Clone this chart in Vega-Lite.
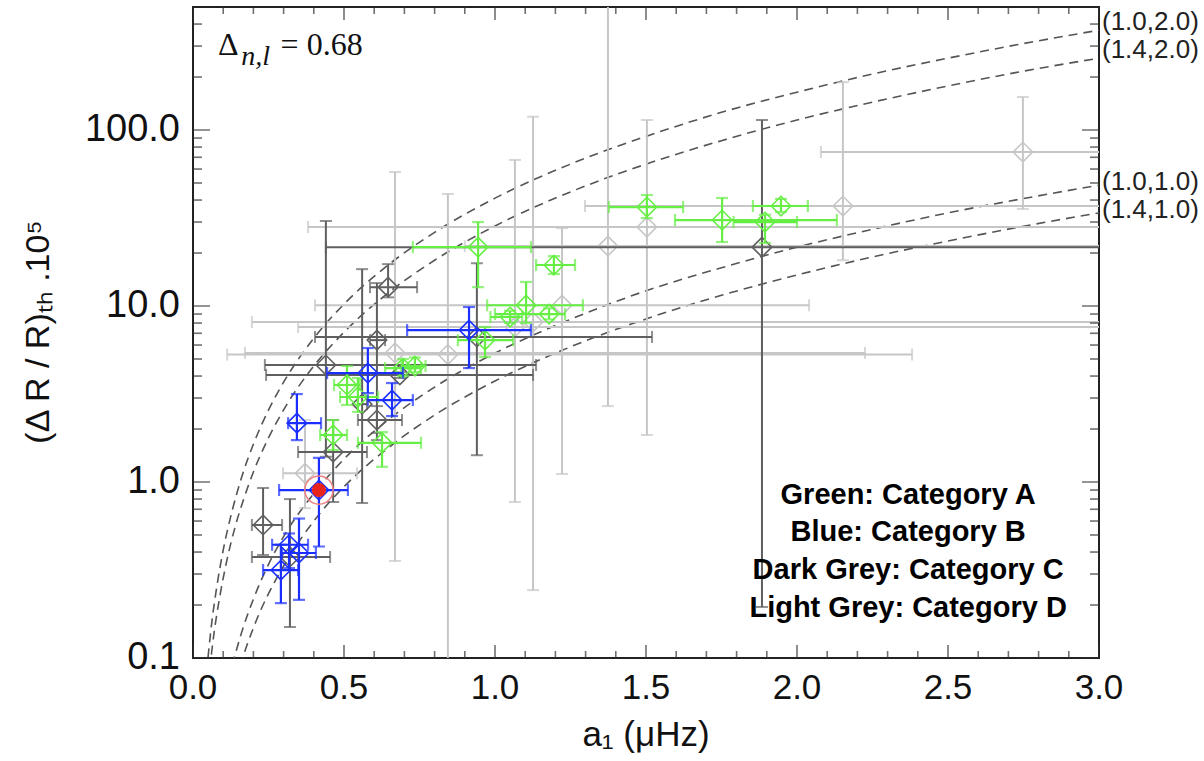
{
"$schema":"https://vega.github.io/schema/vega-lite/v6.json",
"width":906,"height":651,
"autosize":{"type":"none"},
"padding":{"left":193,"top":7,"right":105,"bottom":103},
"background":"white",
"view":{"stroke":"#222","strokeWidth":2},
"config":{"axis":{"grid":false,"domain":false}},
"datasets":{
"xt":[
{"v":0,"e":0.1,"k":"major"},{"v":0.5,"e":0.1,"k":"major"},{"v":1,"e":0.1,"k":"major"},{"v":1.5,"e":0.1,"k":"major"},{"v":2,"e":0.1,"k":"major"},{"v":2.5,"e":0.1,"k":"major"},{"v":3,"e":0.1,"k":"major"},
{"v":0,"e":500,"k":"major"},{"v":0.5,"e":500,"k":"major"},{"v":1,"e":500,"k":"major"},{"v":1.5,"e":500,"k":"major"},{"v":2,"e":500,"k":"major"},{"v":2.5,"e":500,"k":"major"},{"v":3,"e":500,"k":"major"},
{"v":0.1,"e":0.1,"k":"minor"},{"v":0.2,"e":0.1,"k":"minor"},{"v":0.3,"e":0.1,"k":"minor"},{"v":0.4,"e":0.1,"k":"minor"},{"v":0.6,"e":0.1,"k":"minor"},{"v":0.7,"e":0.1,"k":"minor"},{"v":0.8,"e":0.1,"k":"minor"},{"v":0.9,"e":0.1,"k":"minor"},
{"v":1.1,"e":0.1,"k":"minor"},{"v":1.2,"e":0.1,"k":"minor"},{"v":1.3,"e":0.1,"k":"minor"},{"v":1.4,"e":0.1,"k":"minor"},{"v":1.6,"e":0.1,"k":"minor"},{"v":1.7,"e":0.1,"k":"minor"},{"v":1.8,"e":0.1,"k":"minor"},{"v":1.9,"e":0.1,"k":"minor"},
{"v":2.1,"e":0.1,"k":"minor"},{"v":2.2,"e":0.1,"k":"minor"},{"v":2.3,"e":0.1,"k":"minor"},{"v":2.4,"e":0.1,"k":"minor"},{"v":2.6,"e":0.1,"k":"minor"},{"v":2.7,"e":0.1,"k":"minor"},{"v":2.8,"e":0.1,"k":"minor"},{"v":2.9,"e":0.1,"k":"minor"},
{"v":0.1,"e":500,"k":"minor"},{"v":0.2,"e":500,"k":"minor"},{"v":0.3,"e":500,"k":"minor"},{"v":0.4,"e":500,"k":"minor"},{"v":0.6,"e":500,"k":"minor"},{"v":0.7,"e":500,"k":"minor"},{"v":0.8,"e":500,"k":"minor"},{"v":0.9,"e":500,"k":"minor"},
{"v":1.1,"e":500,"k":"minor"},{"v":1.2,"e":500,"k":"minor"},{"v":1.3,"e":500,"k":"minor"},{"v":1.4,"e":500,"k":"minor"},{"v":1.6,"e":500,"k":"minor"},{"v":1.7,"e":500,"k":"minor"},{"v":1.8,"e":500,"k":"minor"},{"v":1.9,"e":500,"k":"minor"},
{"v":2.1,"e":500,"k":"minor"},{"v":2.2,"e":500,"k":"minor"},{"v":2.3,"e":500,"k":"minor"},{"v":2.4,"e":500,"k":"minor"},{"v":2.6,"e":500,"k":"minor"},{"v":2.7,"e":500,"k":"minor"},{"v":2.8,"e":500,"k":"minor"},{"v":2.9,"e":500,"k":"minor"}
],
"yt":[
{"v":0.1,"e":0,"k":"major"},{"v":1,"e":0,"k":"major"},{"v":10,"e":0,"k":"major"},{"v":100,"e":0,"k":"major"},
{"v":0.1,"e":3,"k":"major"},{"v":1,"e":3,"k":"major"},{"v":10,"e":3,"k":"major"},{"v":100,"e":3,"k":"major"},
{"v":0.2,"e":0,"k":"minor"},{"v":0.3,"e":0,"k":"minor"},{"v":0.4,"e":0,"k":"minor"},{"v":0.5,"e":0,"k":"minor"},{"v":0.6,"e":0,"k":"minor"},{"v":0.7,"e":0,"k":"minor"},{"v":0.8,"e":0,"k":"minor"},{"v":0.9,"e":0,"k":"minor"},
{"v":2,"e":0,"k":"minor"},{"v":3,"e":0,"k":"minor"},{"v":4,"e":0,"k":"minor"},{"v":5,"e":0,"k":"minor"},{"v":6,"e":0,"k":"minor"},{"v":7,"e":0,"k":"minor"},{"v":8,"e":0,"k":"minor"},{"v":9,"e":0,"k":"minor"},
{"v":20,"e":0,"k":"minor"},{"v":30,"e":0,"k":"minor"},{"v":40,"e":0,"k":"minor"},{"v":50,"e":0,"k":"minor"},{"v":60,"e":0,"k":"minor"},{"v":70,"e":0,"k":"minor"},{"v":80,"e":0,"k":"minor"},{"v":90,"e":0,"k":"minor"},
{"v":200,"e":0,"k":"minor"},{"v":300,"e":0,"k":"minor"},{"v":400,"e":0,"k":"minor"},
{"v":0.2,"e":3,"k":"minor"},{"v":0.3,"e":3,"k":"minor"},{"v":0.4,"e":3,"k":"minor"},{"v":0.5,"e":3,"k":"minor"},{"v":0.6,"e":3,"k":"minor"},{"v":0.7,"e":3,"k":"minor"},{"v":0.8,"e":3,"k":"minor"},{"v":0.9,"e":3,"k":"minor"},
{"v":2,"e":3,"k":"minor"},{"v":3,"e":3,"k":"minor"},{"v":4,"e":3,"k":"minor"},{"v":5,"e":3,"k":"minor"},{"v":6,"e":3,"k":"minor"},{"v":7,"e":3,"k":"minor"},{"v":8,"e":3,"k":"minor"},{"v":9,"e":3,"k":"minor"},
{"v":20,"e":3,"k":"minor"},{"v":30,"e":3,"k":"minor"},{"v":40,"e":3,"k":"minor"},{"v":50,"e":3,"k":"minor"},{"v":60,"e":3,"k":"minor"},{"v":70,"e":3,"k":"minor"},{"v":80,"e":3,"k":"minor"},{"v":90,"e":3,"k":"minor"},
{"v":200,"e":3,"k":"minor"},{"v":300,"e":3,"k":"minor"},{"v":400,"e":3,"k":"minor"}
],
"xl":[{"v":0,"e":0.1,"t":"0.0"},{"v":0.5,"e":0.1,"t":"0.5"},{"v":1,"e":0.1,"t":"1.0"},{"v":1.5,"e":0.1,"t":"1.5"},{"v":2,"e":0.1,"t":"2.0"},{"v":2.5,"e":0.1,"t":"2.5"},{"v":3,"e":0.1,"t":"3.0"}],
"yl":[{"v":0.1,"e":0,"t":"0.1"},{"v":1,"e":0,"t":"1.0"},{"v":10,"e":0,"t":"10.0"},{"v":100,"e":0,"t":"100.0"}],
"pts":[
{"cat":"D","x":2.748,"y":75,"xlo":2.079,"xhi":3.2,"ylo":35.6,"yhi":154},
{"cat":"D","x":2.152,"y":37,"xlo":1.298,"xhi":3.2,"ylo":18.2,"yhi":187},
{"cat":"D","x":1.503,"y":28.1,"xlo":0.381,"xhi":3.2,"ylo":1.85,"yhi":114},
{"cat":"D","x":1.374,"y":21.9,"xlo":0.9,"xhi":3.2,"ylo":2.7,"yhi":800},
{"cat":"D","x":1.222,"y":10.1,"xlo":0.404,"xhi":2.04,"ylo":1.11,"yhi":27.7},
{"cat":"D","x":1.126,"y":8.1,"xlo":0.195,"xhi":3.2,"ylo":0.243,"yhi":119},
{"cat":"D","x":1.066,"y":7.6,"xlo":0.348,"xhi":3.2,"ylo":0.77,"yhi":67.6},
{"cat":"D","x":0.669,"y":5.41,"xlo":0.172,"xhi":2.225,"ylo":0.356,"yhi":57.7},
{"cat":"D","x":0.844,"y":5.3,"xlo":0.113,"xhi":2.381,"ylo":0.05,"yhi":43.3},
{"cat":"D","x":0.371,"y":1.12,"xlo":0.298,"xhi":0.543,"ylo":0.71,"yhi":2.25},
{"cat":"C","x":1.884,"y":21.6,"xlo":0.44,"xhi":3.2,"ylo":0.195,"yhi":114},
{"cat":"C","x":0.646,"y":12.8,"xlo":0.586,"xhi":0.742,"ylo":11.2,"yhi":17.3},
{"cat":"C","x":0.44,"y":4.62,"xlo":0.238,"xhi":1.136,"ylo":1.39,"yhi":30.4},
{"cat":"C","x":0.94,"y":6.67,"xlo":0.404,"xhi":1.52,"ylo":1.42,"yhi":17.5},
{"cat":"C","x":0.685,"y":4.06,"xlo":0.242,"xhi":1.126,"ylo":3.9,"yhi":4.2},
{"cat":"C","x":0.609,"y":6.4,"xlo":0.586,"xhi":0.636,"ylo":1.73,"yhi":13.5},
{"cat":"C","x":0.56,"y":2.77,"xlo":0.546,"xhi":0.576,"ylo":0.76,"yhi":16.2},
{"cat":"C","x":0.609,"y":2.25,"xlo":0.546,"xhi":0.692,"ylo":1.9,"yhi":2.7},
{"cat":"C","x":0.464,"y":1.48,"xlo":0.348,"xhi":0.576,"ylo":0.77,"yhi":2.25},
{"cat":"C","x":0.232,"y":0.57,"xlo":0.195,"xhi":0.295,"ylo":0.385,"yhi":0.925},
{"cat":"C","x":0.321,"y":0.375,"xlo":0.195,"xhi":0.454,"ylo":0.15,"yhi":0.8},
{"cat":"A","x":1.503,"y":36.5,"xlo":1.377,"xhi":1.623,"ylo":31.6,"yhi":42.7},
{"cat":"A","x":1.752,"y":30.8,"xlo":1.596,"xhi":2.132,"ylo":23.1,"yhi":41.1},
{"cat":"A","x":1.947,"y":37,"xlo":1.854,"xhi":2.036,"ylo":34.2,"yhi":40.6},
{"cat":"A","x":1.894,"y":30,"xlo":1.79,"xhi":2.0,"ylo":22.8,"yhi":33},
{"cat":"A","x":0.944,"y":21.6,"xlo":0.728,"xhi":1.119,"ylo":12.8,"yhi":30},
{"cat":"A","x":1.195,"y":17.1,"xlo":1.136,"xhi":1.265,"ylo":15.2,"yhi":19.2},
{"cat":"A","x":1.103,"y":10.1,"xlo":0.974,"xhi":1.291,"ylo":8.0,"yhi":13.7},
{"cat":"A","x":1.179,"y":9.0,"xlo":1.0,"xhi":1.232,"ylo":8.4,"yhi":9.7},
{"cat":"A","x":1.05,"y":8.66,"xlo":0.985,"xhi":1.09,"ylo":8.0,"yhi":9.4},
{"cat":"A","x":0.967,"y":6.4,"xlo":0.877,"xhi":1.06,"ylo":5.13,"yhi":7.6},
{"cat":"A","x":0.695,"y":4.44,"xlo":0.636,"xhi":0.755,"ylo":4.0,"yhi":5.0},
{"cat":"A","x":0.735,"y":4.56,"xlo":0.69,"xhi":0.77,"ylo":4.2,"yhi":5.1},
{"cat":"A","x":0.51,"y":3.56,"xlo":0.467,"xhi":0.553,"ylo":2.74,"yhi":4.56},
{"cat":"A","x":0.546,"y":3.04,"xlo":0.487,"xhi":0.613,"ylo":2.5,"yhi":3.9},
{"cat":"A","x":0.464,"y":1.85,"xlo":0.421,"xhi":0.51,"ylo":1.52,"yhi":2.25},
{"cat":"A","x":0.626,"y":1.67,"xlo":0.546,"xhi":0.755,"ylo":1.22,"yhi":1.92},
{"cat":"B","x":0.914,"y":7.3,"xlo":0.709,"xhi":1.119,"ylo":4.44,"yhi":9.87},
{"cat":"B","x":0.579,"y":4.16,"xlo":0.444,"xhi":0.695,"ylo":3.2,"yhi":5.77},
{"cat":"B","x":0.659,"y":2.92,"xlo":0.579,"xhi":0.728,"ylo":2.37,"yhi":3.65},
{"cat":"B","x":0.344,"y":2.16,"xlo":0.315,"xhi":0.424,"ylo":1.73,"yhi":3.16},
{"cat":"B","x":0.417,"y":0.9,"xlo":0.285,"xhi":0.513,"ylo":0.43,"yhi":1.37},
{"cat":"B","x":0.291,"y":0.316,"xlo":0.232,"xhi":0.348,"ylo":0.205,"yhi":0.44},
{"cat":"B","x":0.351,"y":0.395,"xlo":0.295,"xhi":0.407,"ylo":0.214,"yhi":0.62},
{"cat":"B","x":0.318,"y":0.44,"xlo":0.262,"xhi":0.381,"ylo":0.324,"yhi":0.51}
],
"curves":[
{"curve":"c1","x":0.045,"y":0.083},{"curve":"c1","x":0.06,"y":0.148},{"curve":"c1","x":0.08,"y":0.262},{"curve":"c1","x":0.1,"y":0.41},{"curve":"c1","x":0.13,"y":0.69},{"curve":"c1","x":0.16,"y":1.05},{"curve":"c1","x":0.2,"y":1.64},{"curve":"c1","x":0.25,"y":2.56},{"curve":"c1","x":0.3,"y":3.69},{"curve":"c1","x":0.4,"y":6.56},{"curve":"c1","x":0.5,"y":10.25},{"curve":"c1","x":0.65,"y":17.3},{"curve":"c1","x":0.8,"y":26.2},{"curve":"c1","x":1.0,"y":41},{"curve":"c1","x":1.25,"y":64},{"curve":"c1","x":1.5,"y":92},{"curve":"c1","x":1.75,"y":126},{"curve":"c1","x":2.0,"y":164},{"curve":"c1","x":2.25,"y":208},{"curve":"c1","x":2.5,"y":256},{"curve":"c1","x":2.75,"y":310},{"curve":"c1","x":3.0,"y":369},
{"curve":"c2","x":0.055,"y":0.086},{"curve":"c2","x":0.07,"y":0.14},{"curve":"c2","x":0.09,"y":0.23},{"curve":"c2","x":0.11,"y":0.345},{"curve":"c2","x":0.14,"y":0.56},{"curve":"c2","x":0.17,"y":0.82},{"curve":"c2","x":0.2,"y":1.14},{"curve":"c2","x":0.25,"y":1.78},{"curve":"c2","x":0.3,"y":2.57},{"curve":"c2","x":0.4,"y":4.56},{"curve":"c2","x":0.5,"y":7.1},{"curve":"c2","x":0.65,"y":12.0},{"curve":"c2","x":0.8,"y":18.2},{"curve":"c2","x":1.0,"y":28.5},{"curve":"c2","x":1.25,"y":44.5},{"curve":"c2","x":1.5,"y":64},{"curve":"c2","x":1.75,"y":87},{"curve":"c2","x":2.0,"y":114},{"curve":"c2","x":2.25,"y":144},{"curve":"c2","x":2.5,"y":178},{"curve":"c2","x":2.75,"y":216},{"curve":"c2","x":3.0,"y":256},
{"curve":"c3","x":0.13,"y":0.091},{"curve":"c3","x":0.16,"y":0.138},{"curve":"c3","x":0.2,"y":0.216},{"curve":"c3","x":0.25,"y":0.34},{"curve":"c3","x":0.3,"y":0.49},{"curve":"c3","x":0.4,"y":0.86},{"curve":"c3","x":0.5,"y":1.35},{"curve":"c3","x":0.65,"y":2.28},{"curve":"c3","x":0.8,"y":3.46},{"curve":"c3","x":1.0,"y":5.4},{"curve":"c3","x":1.25,"y":8.4},{"curve":"c3","x":1.5,"y":12.2},{"curve":"c3","x":1.75,"y":16.5},{"curve":"c3","x":2.0,"y":21.6},{"curve":"c3","x":2.25,"y":27.3},{"curve":"c3","x":2.5,"y":33.8},{"curve":"c3","x":2.75,"y":40.8},{"curve":"c3","x":3.0,"y":48.6},
{"curve":"c4","x":0.155,"y":0.09},{"curve":"c4","x":0.18,"y":0.12},{"curve":"c4","x":0.22,"y":0.18},{"curve":"c4","x":0.27,"y":0.27},{"curve":"c4","x":0.32,"y":0.38},{"curve":"c4","x":0.4,"y":0.6},{"curve":"c4","x":0.5,"y":0.94},{"curve":"c4","x":0.65,"y":1.58},{"curve":"c4","x":0.8,"y":2.4},{"curve":"c4","x":1.0,"y":3.75},{"curve":"c4","x":1.25,"y":5.86},{"curve":"c4","x":1.5,"y":8.44},{"curve":"c4","x":1.75,"y":11.5},{"curve":"c4","x":2.0,"y":15},{"curve":"c4","x":2.25,"y":19},{"curve":"c4","x":2.5,"y":23.4},{"curve":"c4","x":2.75,"y":28.4},{"curve":"c4","x":3.0,"y":33.8}
]
},
"layer":[
{"data":{"name":"curves"},"mark":{"type":"line","clip":true,"color":"#555555","strokeWidth":1.6,"strokeDash":[9,6],"interpolate":"monotone"},
 "encoding":{
  "x":{"field":"x","type":"quantitative","scale":{"domain":[0,3],"nice":false,"zero":false},"axis":null},
  "y":{"field":"y","type":"quantitative","scale":{"type":"log","domain":[0.1,500],"nice":false},"axis":null},
  "detail":{"field":"curve"}
 }},
{"data":{"name":"pts"},"transform":[{"filter":"datum.cat === 'D'"}],
 "layer":[
  {"mark":{"type":"rule","clip":true,"strokeWidth":2},"encoding":{"x":{"field":"xlo","type":"quantitative","scale":{"domain":[0,3],"nice":false,"zero":false},"axis":null},"x2":{"field":"xhi"},"y":{"field":"y","type":"quantitative","scale":{"type":"log","domain":[0.1,500],"nice":false},"axis":null},"color":{"field":"cat","type":"nominal","scale":{"domain":["A","B","C","D"],"range":["#66ee44","#1a2fff","#5f5f5f","#c6c6c6"]},"legend":null}}},
  {"mark":{"type":"rule","clip":true,"strokeWidth":2},"encoding":{"x":{"field":"x","type":"quantitative","scale":{"domain":[0,3],"nice":false,"zero":false},"axis":null},"y":{"field":"ylo","type":"quantitative","scale":{"type":"log","domain":[0.1,500],"nice":false},"axis":null},"y2":{"field":"yhi"},"color":{"field":"cat","type":"nominal","scale":{"domain":["A","B","C","D"],"range":["#66ee44","#1a2fff","#5f5f5f","#c6c6c6"]},"legend":null}}},
  {"mark":{"type":"tick","orient":"vertical","clip":true,"size":12,"thickness":2},"encoding":{"x":{"field":"xlo","type":"quantitative","scale":{"domain":[0,3],"nice":false,"zero":false},"axis":null},"y":{"field":"y","type":"quantitative","scale":{"type":"log","domain":[0.1,500],"nice":false},"axis":null},"color":{"field":"cat","type":"nominal","scale":{"domain":["A","B","C","D"],"range":["#66ee44","#1a2fff","#5f5f5f","#c6c6c6"]},"legend":null}}},
  {"mark":{"type":"tick","orient":"vertical","clip":true,"size":12,"thickness":2},"encoding":{"x":{"field":"xhi","type":"quantitative","scale":{"domain":[0,3],"nice":false,"zero":false},"axis":null},"y":{"field":"y","type":"quantitative","scale":{"type":"log","domain":[0.1,500],"nice":false},"axis":null},"color":{"field":"cat","type":"nominal","scale":{"domain":["A","B","C","D"],"range":["#66ee44","#1a2fff","#5f5f5f","#c6c6c6"]},"legend":null}}},
  {"mark":{"type":"tick","orient":"horizontal","clip":true,"size":12,"thickness":2},"encoding":{"x":{"field":"x","type":"quantitative","scale":{"domain":[0,3],"nice":false,"zero":false},"axis":null},"y":{"field":"ylo","type":"quantitative","scale":{"type":"log","domain":[0.1,500],"nice":false},"axis":null},"color":{"field":"cat","type":"nominal","scale":{"domain":["A","B","C","D"],"range":["#66ee44","#1a2fff","#5f5f5f","#c6c6c6"]},"legend":null}}},
  {"mark":{"type":"tick","orient":"horizontal","clip":true,"size":12,"thickness":2},"encoding":{"x":{"field":"x","type":"quantitative","scale":{"domain":[0,3],"nice":false,"zero":false},"axis":null},"y":{"field":"yhi","type":"quantitative","scale":{"type":"log","domain":[0.1,500],"nice":false},"axis":null},"color":{"field":"cat","type":"nominal","scale":{"domain":["A","B","C","D"],"range":["#66ee44","#1a2fff","#5f5f5f","#c6c6c6"]},"legend":null}}},
  {"mark":{"type":"point","shape":"diamond","filled":false,"size":380,"strokeWidth":1.6,"opacity":1,"clip":true},"encoding":{"x":{"field":"x","type":"quantitative","scale":{"domain":[0,3],"nice":false,"zero":false},"axis":null},"y":{"field":"y","type":"quantitative","scale":{"type":"log","domain":[0.1,500],"nice":false},"axis":null},"color":{"field":"cat","type":"nominal","scale":{"domain":["A","B","C","D"],"range":["#66ee44","#1a2fff","#5f5f5f","#c6c6c6"]},"legend":null}}}
 ]},
{"data":{"name":"pts"},"transform":[{"filter":"datum.cat === 'C'"}],
 "layer":[
  {"mark":{"type":"rule","clip":true,"strokeWidth":2},"encoding":{"x":{"field":"xlo","type":"quantitative","scale":{"domain":[0,3],"nice":false,"zero":false},"axis":null},"x2":{"field":"xhi"},"y":{"field":"y","type":"quantitative","scale":{"type":"log","domain":[0.1,500],"nice":false},"axis":null},"color":{"field":"cat","type":"nominal","scale":{"domain":["A","B","C","D"],"range":["#66ee44","#1a2fff","#5f5f5f","#c6c6c6"]},"legend":null}}},
  {"mark":{"type":"rule","clip":true,"strokeWidth":2},"encoding":{"x":{"field":"x","type":"quantitative","scale":{"domain":[0,3],"nice":false,"zero":false},"axis":null},"y":{"field":"ylo","type":"quantitative","scale":{"type":"log","domain":[0.1,500],"nice":false},"axis":null},"y2":{"field":"yhi"},"color":{"field":"cat","type":"nominal","scale":{"domain":["A","B","C","D"],"range":["#66ee44","#1a2fff","#5f5f5f","#c6c6c6"]},"legend":null}}},
  {"mark":{"type":"tick","orient":"vertical","clip":true,"size":12,"thickness":2},"encoding":{"x":{"field":"xlo","type":"quantitative","scale":{"domain":[0,3],"nice":false,"zero":false},"axis":null},"y":{"field":"y","type":"quantitative","scale":{"type":"log","domain":[0.1,500],"nice":false},"axis":null},"color":{"field":"cat","type":"nominal","scale":{"domain":["A","B","C","D"],"range":["#66ee44","#1a2fff","#5f5f5f","#c6c6c6"]},"legend":null}}},
  {"mark":{"type":"tick","orient":"vertical","clip":true,"size":12,"thickness":2},"encoding":{"x":{"field":"xhi","type":"quantitative","scale":{"domain":[0,3],"nice":false,"zero":false},"axis":null},"y":{"field":"y","type":"quantitative","scale":{"type":"log","domain":[0.1,500],"nice":false},"axis":null},"color":{"field":"cat","type":"nominal","scale":{"domain":["A","B","C","D"],"range":["#66ee44","#1a2fff","#5f5f5f","#c6c6c6"]},"legend":null}}},
  {"mark":{"type":"tick","orient":"horizontal","clip":true,"size":12,"thickness":2},"encoding":{"x":{"field":"x","type":"quantitative","scale":{"domain":[0,3],"nice":false,"zero":false},"axis":null},"y":{"field":"ylo","type":"quantitative","scale":{"type":"log","domain":[0.1,500],"nice":false},"axis":null},"color":{"field":"cat","type":"nominal","scale":{"domain":["A","B","C","D"],"range":["#66ee44","#1a2fff","#5f5f5f","#c6c6c6"]},"legend":null}}},
  {"mark":{"type":"tick","orient":"horizontal","clip":true,"size":12,"thickness":2},"encoding":{"x":{"field":"x","type":"quantitative","scale":{"domain":[0,3],"nice":false,"zero":false},"axis":null},"y":{"field":"yhi","type":"quantitative","scale":{"type":"log","domain":[0.1,500],"nice":false},"axis":null},"color":{"field":"cat","type":"nominal","scale":{"domain":["A","B","C","D"],"range":["#66ee44","#1a2fff","#5f5f5f","#c6c6c6"]},"legend":null}}},
  {"mark":{"type":"point","shape":"diamond","filled":false,"size":380,"strokeWidth":1.6,"opacity":1,"clip":true},"encoding":{"x":{"field":"x","type":"quantitative","scale":{"domain":[0,3],"nice":false,"zero":false},"axis":null},"y":{"field":"y","type":"quantitative","scale":{"type":"log","domain":[0.1,500],"nice":false},"axis":null},"color":{"field":"cat","type":"nominal","scale":{"domain":["A","B","C","D"],"range":["#66ee44","#1a2fff","#5f5f5f","#c6c6c6"]},"legend":null}}}
 ]},
{"data":{"name":"pts"},"transform":[{"filter":"datum.cat === 'A'"}],
 "layer":[
  {"mark":{"type":"rule","clip":true,"strokeWidth":2.2},"encoding":{"x":{"field":"xlo","type":"quantitative","scale":{"domain":[0,3],"nice":false,"zero":false},"axis":null},"x2":{"field":"xhi"},"y":{"field":"y","type":"quantitative","scale":{"type":"log","domain":[0.1,500],"nice":false},"axis":null},"color":{"field":"cat","type":"nominal","scale":{"domain":["A","B","C","D"],"range":["#66ee44","#1a2fff","#5f5f5f","#c6c6c6"]},"legend":null}}},
  {"mark":{"type":"rule","clip":true,"strokeWidth":2.2},"encoding":{"x":{"field":"x","type":"quantitative","scale":{"domain":[0,3],"nice":false,"zero":false},"axis":null},"y":{"field":"ylo","type":"quantitative","scale":{"type":"log","domain":[0.1,500],"nice":false},"axis":null},"y2":{"field":"yhi"},"color":{"field":"cat","type":"nominal","scale":{"domain":["A","B","C","D"],"range":["#66ee44","#1a2fff","#5f5f5f","#c6c6c6"]},"legend":null}}},
  {"mark":{"type":"tick","orient":"vertical","clip":true,"size":12,"thickness":2.2},"encoding":{"x":{"field":"xlo","type":"quantitative","scale":{"domain":[0,3],"nice":false,"zero":false},"axis":null},"y":{"field":"y","type":"quantitative","scale":{"type":"log","domain":[0.1,500],"nice":false},"axis":null},"color":{"field":"cat","type":"nominal","scale":{"domain":["A","B","C","D"],"range":["#66ee44","#1a2fff","#5f5f5f","#c6c6c6"]},"legend":null}}},
  {"mark":{"type":"tick","orient":"vertical","clip":true,"size":12,"thickness":2.2},"encoding":{"x":{"field":"xhi","type":"quantitative","scale":{"domain":[0,3],"nice":false,"zero":false},"axis":null},"y":{"field":"y","type":"quantitative","scale":{"type":"log","domain":[0.1,500],"nice":false},"axis":null},"color":{"field":"cat","type":"nominal","scale":{"domain":["A","B","C","D"],"range":["#66ee44","#1a2fff","#5f5f5f","#c6c6c6"]},"legend":null}}},
  {"mark":{"type":"tick","orient":"horizontal","clip":true,"size":12,"thickness":2.2},"encoding":{"x":{"field":"x","type":"quantitative","scale":{"domain":[0,3],"nice":false,"zero":false},"axis":null},"y":{"field":"ylo","type":"quantitative","scale":{"type":"log","domain":[0.1,500],"nice":false},"axis":null},"color":{"field":"cat","type":"nominal","scale":{"domain":["A","B","C","D"],"range":["#66ee44","#1a2fff","#5f5f5f","#c6c6c6"]},"legend":null}}},
  {"mark":{"type":"tick","orient":"horizontal","clip":true,"size":12,"thickness":2.2},"encoding":{"x":{"field":"x","type":"quantitative","scale":{"domain":[0,3],"nice":false,"zero":false},"axis":null},"y":{"field":"yhi","type":"quantitative","scale":{"type":"log","domain":[0.1,500],"nice":false},"axis":null},"color":{"field":"cat","type":"nominal","scale":{"domain":["A","B","C","D"],"range":["#66ee44","#1a2fff","#5f5f5f","#c6c6c6"]},"legend":null}}},
  {"mark":{"type":"point","shape":"diamond","filled":false,"size":380,"strokeWidth":1.6,"opacity":1,"clip":true},"encoding":{"x":{"field":"x","type":"quantitative","scale":{"domain":[0,3],"nice":false,"zero":false},"axis":null},"y":{"field":"y","type":"quantitative","scale":{"type":"log","domain":[0.1,500],"nice":false},"axis":null},"color":{"field":"cat","type":"nominal","scale":{"domain":["A","B","C","D"],"range":["#66ee44","#1a2fff","#5f5f5f","#c6c6c6"]},"legend":null}}}
 ]},
{"data":{"name":"pts"},"transform":[{"filter":"datum.cat === 'B'"}],
 "layer":[
  {"mark":{"type":"rule","clip":true,"strokeWidth":2.2},"encoding":{"x":{"field":"xlo","type":"quantitative","scale":{"domain":[0,3],"nice":false,"zero":false},"axis":null},"x2":{"field":"xhi"},"y":{"field":"y","type":"quantitative","scale":{"type":"log","domain":[0.1,500],"nice":false},"axis":null},"color":{"field":"cat","type":"nominal","scale":{"domain":["A","B","C","D"],"range":["#66ee44","#1a2fff","#5f5f5f","#c6c6c6"]},"legend":null}}},
  {"mark":{"type":"rule","clip":true,"strokeWidth":2.2},"encoding":{"x":{"field":"x","type":"quantitative","scale":{"domain":[0,3],"nice":false,"zero":false},"axis":null},"y":{"field":"ylo","type":"quantitative","scale":{"type":"log","domain":[0.1,500],"nice":false},"axis":null},"y2":{"field":"yhi"},"color":{"field":"cat","type":"nominal","scale":{"domain":["A","B","C","D"],"range":["#66ee44","#1a2fff","#5f5f5f","#c6c6c6"]},"legend":null}}},
  {"mark":{"type":"tick","orient":"vertical","clip":true,"size":12,"thickness":2.2},"encoding":{"x":{"field":"xlo","type":"quantitative","scale":{"domain":[0,3],"nice":false,"zero":false},"axis":null},"y":{"field":"y","type":"quantitative","scale":{"type":"log","domain":[0.1,500],"nice":false},"axis":null},"color":{"field":"cat","type":"nominal","scale":{"domain":["A","B","C","D"],"range":["#66ee44","#1a2fff","#5f5f5f","#c6c6c6"]},"legend":null}}},
  {"mark":{"type":"tick","orient":"vertical","clip":true,"size":12,"thickness":2.2},"encoding":{"x":{"field":"xhi","type":"quantitative","scale":{"domain":[0,3],"nice":false,"zero":false},"axis":null},"y":{"field":"y","type":"quantitative","scale":{"type":"log","domain":[0.1,500],"nice":false},"axis":null},"color":{"field":"cat","type":"nominal","scale":{"domain":["A","B","C","D"],"range":["#66ee44","#1a2fff","#5f5f5f","#c6c6c6"]},"legend":null}}},
  {"mark":{"type":"tick","orient":"horizontal","clip":true,"size":12,"thickness":2.2},"encoding":{"x":{"field":"x","type":"quantitative","scale":{"domain":[0,3],"nice":false,"zero":false},"axis":null},"y":{"field":"ylo","type":"quantitative","scale":{"type":"log","domain":[0.1,500],"nice":false},"axis":null},"color":{"field":"cat","type":"nominal","scale":{"domain":["A","B","C","D"],"range":["#66ee44","#1a2fff","#5f5f5f","#c6c6c6"]},"legend":null}}},
  {"mark":{"type":"tick","orient":"horizontal","clip":true,"size":12,"thickness":2.2},"encoding":{"x":{"field":"x","type":"quantitative","scale":{"domain":[0,3],"nice":false,"zero":false},"axis":null},"y":{"field":"yhi","type":"quantitative","scale":{"type":"log","domain":[0.1,500],"nice":false},"axis":null},"color":{"field":"cat","type":"nominal","scale":{"domain":["A","B","C","D"],"range":["#66ee44","#1a2fff","#5f5f5f","#c6c6c6"]},"legend":null}}},
  {"mark":{"type":"point","shape":"diamond","filled":false,"size":380,"strokeWidth":1.6,"opacity":1,"clip":true},"encoding":{"x":{"field":"x","type":"quantitative","scale":{"domain":[0,3],"nice":false,"zero":false},"axis":null},"y":{"field":"y","type":"quantitative","scale":{"type":"log","domain":[0.1,500],"nice":false},"axis":null},"color":{"field":"cat","type":"nominal","scale":{"domain":["A","B","C","D"],"range":["#66ee44","#1a2fff","#5f5f5f","#c6c6c6"]},"legend":null}}}
 ]},
{"data":{"values":[{"x":0.417,"y":0.9}]},
 "layer":[
  {"mark":{"type":"point","shape":"circle","filled":false,"size":800,"stroke":"#f08080","strokeWidth":1.5,"opacity":1},"encoding":{"x":{"field":"x","type":"quantitative","scale":{"domain":[0,3],"nice":false,"zero":false},"axis":null},"y":{"field":"y","type":"quantitative","scale":{"type":"log","domain":[0.1,500],"nice":false},"axis":null}}},
  {"mark":{"type":"point","shape":"circle","filled":true,"size":200,"fill":"#e8231a","opacity":1},"encoding":{"x":{"field":"x","type":"quantitative","scale":{"domain":[0,3],"nice":false,"zero":false},"axis":null},"y":{"field":"y","type":"quantitative","scale":{"type":"log","domain":[0.1,500],"nice":false},"axis":null}}}
 ]},
{"data":{"name":"xt"},"transform":[{"filter":"datum.k === 'major'"}],
 "mark":{"type":"tick","orient":"vertical","clip":true,"size":26,"thickness":1.6},
 "encoding":{"x":{"field":"v","type":"quantitative","scale":{"domain":[0,3],"nice":false,"zero":false},"axis":null},"y":{"field":"e","type":"quantitative","scale":{"type":"log","domain":[0.1,500],"nice":false},"axis":null},"color":{"value":"#333333"}}},
{"data":{"name":"xt"},"transform":[{"filter":"datum.k === 'minor'"}],
 "mark":{"type":"tick","orient":"vertical","clip":true,"size":14,"thickness":1.6},
 "encoding":{"x":{"field":"v","type":"quantitative","scale":{"domain":[0,3],"nice":false,"zero":false},"axis":null},"y":{"field":"e","type":"quantitative","scale":{"type":"log","domain":[0.1,500],"nice":false},"axis":null},"color":{"value":"#333333"}}},
{"data":{"name":"yt"},"transform":[{"filter":"datum.k === 'major'"}],
 "mark":{"type":"tick","orient":"horizontal","clip":true,"size":34,"thickness":1.6},
 "encoding":{"y":{"field":"v","type":"quantitative","scale":{"type":"log","domain":[0.1,500],"nice":false},"axis":null},"x":{"field":"e","type":"quantitative","scale":{"domain":[0,3],"nice":false,"zero":false},"axis":null},"color":{"value":"#333333"}}},
{"data":{"name":"yt"},"transform":[{"filter":"datum.k === 'minor'"}],
 "mark":{"type":"tick","orient":"horizontal","clip":true,"size":18,"thickness":1.6},
 "encoding":{"y":{"field":"v","type":"quantitative","scale":{"type":"log","domain":[0.1,500],"nice":false},"axis":null},"x":{"field":"e","type":"quantitative","scale":{"domain":[0,3],"nice":false,"zero":false},"axis":null},"color":{"value":"#333333"}}},
{"data":{"name":"xl"},
 "mark":{"type":"text","align":"center","baseline":"top","dy":13,"font":"Liberation Sans Narrow, Liberation Sans","fontSize":35,"color":"#111"},
 "encoding":{"x":{"field":"v","type":"quantitative","scale":{"domain":[0,3],"nice":false,"zero":false},"axis":null},"y":{"field":"e","type":"quantitative","scale":{"type":"log","domain":[0.1,500],"nice":false},"axis":null},"text":{"field":"t"}}},
{"data":{"name":"yl"},
 "mark":{"type":"text","align":"right","baseline":"middle","dx":-13,"font":"Liberation Sans","fontSize":38,"color":"#111"},
 "encoding":{"y":{"field":"v","type":"quantitative","scale":{"type":"log","domain":[0.1,500],"nice":false},"axis":null},"x":{"field":"e","type":"quantitative","scale":{"domain":[0,3],"nice":false,"zero":false},"axis":null},"text":{"field":"t"}}},
{"data":{"values":[{"x":1.5,"y":0.1,"t":"a₁ (μHz)"}]},
 "mark":{"type":"text","align":"center","baseline":"top","dy":60,"font":"Liberation Sans Narrow, Liberation Sans","fontSize":35,"color":"#111"},
 "encoding":{"x":{"field":"x","type":"quantitative","scale":{"domain":[0,3],"nice":false,"zero":false},"axis":null},"y":{"field":"y","type":"quantitative","scale":{"type":"log","domain":[0.1,500],"nice":false},"axis":null},"text":{"field":"t"}}},
{"data":{"values":[{"x":0,"y":7.11,"t":"(Δ R / R)ₜₕ .10⁵"}]},
 "mark":{"type":"text","align":"center","baseline":"middle","angle":270,"dy":-154,"font":"Liberation Sans","fontSize":34,"color":"#111"},
 "encoding":{"x":{"field":"x","type":"quantitative","scale":{"domain":[0,3],"nice":false,"zero":false},"axis":null},"y":{"field":"y","type":"quantitative","scale":{"type":"log","domain":[0.1,500],"nice":false},"axis":null},"text":{"field":"t"}}},
{"data":{"values":[{"x":0.083,"y":267,"t":"Δ"},{"x":0.29,"y":267,"t":"= 0.68"}]},
 "mark":{"type":"text","align":"left","baseline":"alphabetic","font":"Liberation Serif","fontSize":32,"color":"#111"},
 "encoding":{"x":{"field":"x","type":"quantitative","scale":{"domain":[0,3],"nice":false,"zero":false},"axis":null},"y":{"field":"y","type":"quantitative","scale":{"type":"log","domain":[0.1,500],"nice":false},"axis":null},"text":{"field":"t"}}},
{"data":{"values":[{"x":0.16,"y":234,"t":"n,l"}]},
 "mark":{"type":"text","align":"left","baseline":"alphabetic","font":"Liberation Serif","fontStyle":"italic","fontSize":28,"color":"#111"},
 "encoding":{"x":{"field":"x","type":"quantitative","scale":{"domain":[0,3],"nice":false,"zero":false},"axis":null},"y":{"field":"y","type":"quantitative","scale":{"type":"log","domain":[0.1,500],"nice":false},"axis":null},"text":{"field":"t"}}},
{"data":{"values":[{"x":2.368,"y":0.843,"t":"Green: Category A"},{"x":2.368,"y":0.52,"t":"Blue: Category B"},{"x":2.368,"y":0.316,"t":"Dark Grey: Category C"},{"x":2.368,"y":0.192,"t":"Light Grey: Category D"}]},
 "mark":{"type":"text","align":"center","baseline":"middle","font":"Liberation Sans","fontWeight":"bold","fontSize":29,"color":"#000"},
 "encoding":{"x":{"field":"x","type":"quantitative","scale":{"domain":[0,3],"nice":false,"zero":false},"axis":null},"y":{"field":"y","type":"quantitative","scale":{"type":"log","domain":[0.1,500],"nice":false},"axis":null},"text":{"field":"t"}}},
{"data":{"values":[{"x":3.0,"y":411,"t":"(1.0,2.0)"},{"x":3.0,"y":285,"t":"(1.4,2.0)"},{"x":3.0,"y":50.7,"t":"(1.0,1.0)"},{"x":3.0,"y":35.1,"t":"(1.4,1.0)"}]},
 "mark":{"type":"text","align":"left","baseline":"middle","dx":3,"font":"Liberation Sans","fontSize":26,"color":"#222"},
 "encoding":{"x":{"field":"x","type":"quantitative","scale":{"domain":[0,3],"nice":false,"zero":false},"axis":null},"y":{"field":"y","type":"quantitative","scale":{"type":"log","domain":[0.1,500],"nice":false},"axis":null},"text":{"field":"t"}}}
]
}
